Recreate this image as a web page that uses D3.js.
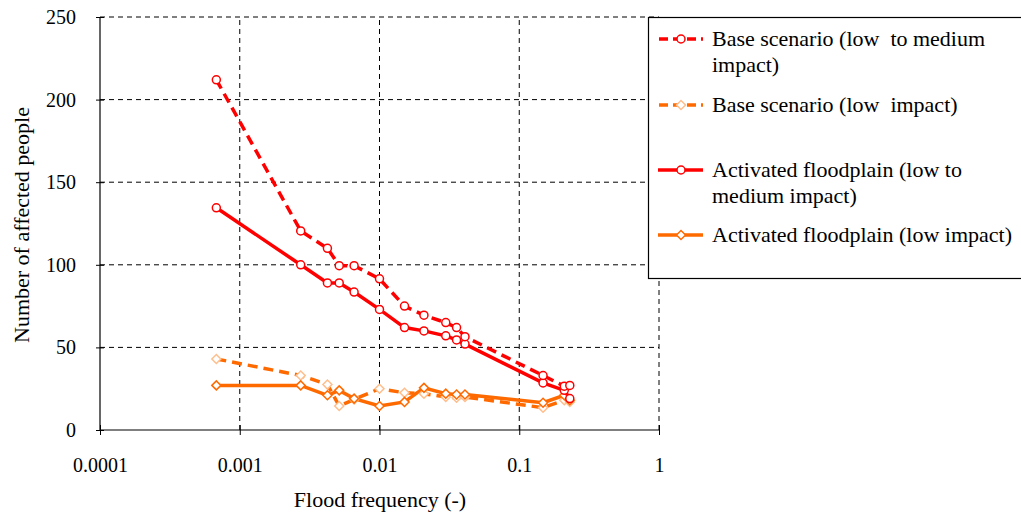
<!DOCTYPE html>
<html><head><meta charset="utf-8">
<script src="https://cdn.jsdelivr.net/npm/d3@7"></script>
<style>body{margin:0;background:#fff;}</style>
</head><body>
<svg id="c" width="1021" height="518"></svg>
<script>
const freq = [0.00068, 0.00273, 0.00424, 0.00515, 0.00658, 0.01, 0.0151, 0.0208, 0.0298, 0.0356, 0.0409, 0.148, 0.21, 0.23];
const baseMed = [212, 120.5, 110, 99.5, 99.5, 91.5, 75, 69.5, 65, 62, 56.5, 33, 26.5, 27];
const baseLow = [43, 33, 27.5, 14.5, 18.5, 25, 22.5, 22, 20, 19.5, 20, 13.5, 18, 17];
const actMed = [134.5, 100, 89, 89, 83.5, 73, 62, 60, 57, 54.5, 52, 28.5, 24, 19];
const actLow = [27, 27, 21, 24, 19, 14.5, 17, 25.5, 22, 21.5, 21.5, 16.5, 21, 18];
const xTicks = [0.0001, 0.001, 0.01, 0.1, 1];
const xTickLabels = ["0.0001", "0.001", "0.01", "0.1", "1"];
const yTicks = [0, 50, 100, 150, 200, 250];
const seriesNames = ["Base scenario (low  to medium|impact)", "Base scenario (low  impact)", "Activated floodplain (low to|medium impact)", "Activated floodplain (low impact)"];

const FF = "'Liberation Serif', 'DejaVu Serif', serif";
const svg = d3.select("#c");
const x = d3.scaleLog().domain([0.0001, 1]).range([100, 659]);
const y = d3.scaleLinear().domain([0, 250]).range([430, 17]);

// grid
const g = svg.append("g");
g.selectAll(".vg").data(xTicks.slice(1)).join("line")
  .attr("x1", d => x(d)).attr("x2", d => x(d)).attr("y1", y(0)).attr("y2", y(250))
  .attr("stroke", "#000").attr("stroke-width", 1).attr("stroke-dasharray", "5,4");
g.selectAll(".hg").data(yTicks.slice(1)).join("line")
  .attr("x1", x(0.0001)).attr("x2", x(1)).attr("y1", d => y(d)).attr("y2", d => y(d))
  .attr("stroke", "#000").attr("stroke-width", 1).attr("stroke-dasharray", "5,4");

// axes
const yAxis = svg.append("g").attr("transform", `translate(${x(0.0001)},0)`)
  .call(d3.axisLeft(y).tickValues(yTicks).tickSize(6).tickPadding(18));
yAxis.selectAll(".tick line").attr("x2", 4).attr("x1", -4);
const xAxis = svg.append("g").attr("transform", `translate(0,${y(0)})`)
  .call(d3.axisBottom(x).tickValues(xTicks).tickFormat((d, i) => xTickLabels[i]).tickSize(5).tickPadding(23));
xAxis.selectAll(".tick line").attr("y1", -5).attr("y2", 5);
svg.selectAll(".domain").attr("stroke", "#000").attr("stroke-width", 1.2);
yAxis.attr("font-family", null).attr("font-size", null);
xAxis.attr("font-family", null).attr("font-size", null);
svg.selectAll(".tick text").attr("fill", "#000").classed("tk", true);
yAxis.selectAll(".domain").attr("d", `M0,${y(250)}V${y(0)}`);
xAxis.selectAll(".domain").attr("d", `M${x(0.0001)},0H${x(1)}`);

svg.append("text").attr("x", 380).attr("y", 507).attr("text-anchor", "middle")
  .text("Flood frequency (-)");
svg.append("text").attr("transform", "translate(29,225) rotate(-90)").attr("text-anchor", "middle")
  .text("Number of affected people");

const line = d3.line().x((d, i) => x(freq[i])).y(d => y(d));
const RED = "#FF0000", ORANGE = "#FF6A00", PEACH = "#FFBE8C";

function diamond(sel, cx, cy, color) {
  sel.append("path").attr("d", `M${cx - 4.5},${cy}L${cx},${cy - 4.5}L${cx + 4.5},${cy}L${cx},${cy + 4.5}Z`)
    .attr("fill", "#fff").attr("stroke", color).attr("stroke-width", 1.5);
}

// orange series
svg.append("path").datum(baseLow).attr("d", line).attr("fill", "none").attr("stroke", ORANGE)
  .attr("stroke-width", 3.5).attr("stroke-dasharray", "10,6");
svg.append("path").datum(actLow).attr("d", line).attr("fill", "none").attr("stroke", ORANGE)
  .attr("stroke-width", 3.5);
const mk = svg.append("g");
baseLow.forEach((v, i) => diamond(mk, x(freq[i]), y(v), PEACH));
actLow.forEach((v, i) => diamond(mk, x(freq[i]), y(v), ORANGE));

// red series
svg.append("path").datum(actMed).attr("d", line).attr("fill", "none").attr("stroke", RED)
  .attr("stroke-width", 3.5);
svg.append("path").datum(baseMed).attr("d", line).attr("fill", "none").attr("stroke", RED)
  .attr("stroke-width", 3.5).attr("stroke-dasharray", "10,6");
[actMed, baseMed].forEach(s => {
  svg.append("g").selectAll("circle").data(s).join("circle")
    .attr("cx", (d, i) => x(freq[i])).attr("cy", d => y(d)).attr("r", 4)
    .attr("fill", "#fff").attr("stroke", RED).attr("stroke-width", 1.5);
});

// legend
const lg = svg.append("g");
lg.append("rect").attr("x", 648.5).attr("y", 17.5).attr("width", 400).attr("height", 261)
  .attr("fill", "#fff").attr("stroke", "#000").attr("stroke-width", 1.2);
const legY = [39, 105, 170, 235];
const legStyle = [
  {c: RED, dash: "9,5", m: "circle", mc: RED},
  {c: ORANGE, dash: "9,5", m: "diamond", mc: PEACH},
  {c: RED, dash: null, m: "circle", mc: RED},
  {c: ORANGE, dash: null, m: "diamond", mc: ORANGE}
];
seriesNames.forEach((name, k) => {
  const st = legStyle[k], ly = legY[k];
  const l = lg.append("line").attr("x1", 658).attr("x2", 703).attr("y1", ly).attr("y2", ly)
    .attr("stroke", st.c).attr("stroke-width", 3.5);
  if (st.dash) l.attr("stroke-dasharray", st.dash).attr("stroke-dashoffset", -1);
  if (st.m === "circle") lg.append("circle").attr("cx", 681).attr("cy", ly).attr("r", 4)
    .attr("fill", "#fff").attr("stroke", st.mc).attr("stroke-width", 1.5);
  else diamond(lg, 681, ly, st.mc);
  const parts = name.split("|");
  parts.forEach((p, j) => {
    lg.append("text").attr("x", 712).attr("y", ly + 7 + j * 26)
      .style("white-space", "pre").text(p);
  });
});

svg.selectAll("text").attr("font-family", null).attr("font-size", null)
  .style("font-family", FF).style("font-size", "22px");
svg.selectAll("text.tk").style("font-size", "20px");
</script>
</body></html>
